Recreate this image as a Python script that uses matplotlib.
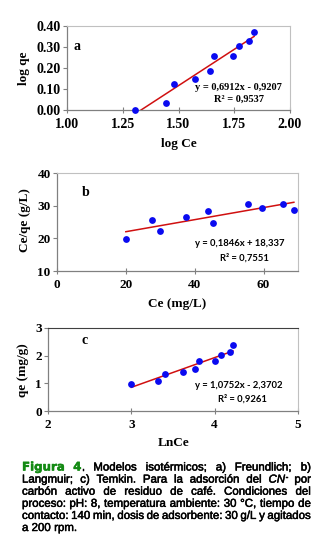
import matplotlib
matplotlib.use("Agg")
import matplotlib.pyplot as plt
import matplotlib.patheffects as pe
from matplotlib.ticker import FormatStrFormatter, FixedLocator

# panel a - Freundlich
a_x = [1.303, 1.443, 1.478, 1.576, 1.643, 1.658, 1.745, 1.773, 1.818, 1.839]
a_y = [0.000, 0.032, 0.123, 0.150, 0.188, 0.259, 0.258, 0.305, 0.330, 0.373]
a_fit = [0.6912, -0.9207]
# panel b - Langmuir
b_x = [20.0, 27.6, 30.0, 37.5, 43.8, 45.4, 55.4, 59.4, 65.7, 68.8]
b_y = [19.9, 25.5, 22.2, 26.5, 28.3, 24.7, 30.4, 29.4, 30.5, 28.8]
b_fit = [0.1846, 18.337]
# panel c - Temkin
c_x = [3.00, 3.316, 3.40, 3.62, 3.77, 3.81, 4.00, 4.08, 4.18, 4.22]
c_y = [0.98, 1.08, 1.34, 1.41, 1.53, 1.81, 1.80, 2.02, 2.14, 2.38]
c_fit = [1.0752, -2.3702]

W, H = 320, 544
def fx(px): return px / W
def fy(py): return 1 - py / H

fig = plt.figure(figsize=(3.2, 5.44), dpi=100, facecolor="white")
serif = "Liberation Serif"
blue = "#0a0af0"
red = "#d01010"

def make_ax(l, r, t, b):
    ax = fig.add_axes([fx(l), fy(b), fx(r) - fx(l), fy(t) - fy(b)])
    for s in ["left", "bottom"]:
        ax.spines[s].set_color("#808080")
        ax.spines[s].set_linewidth(0.9)
    for s in ["top", "right"]:
        ax.spines[s].set_color("#c0c0c0")
        ax.spines[s].set_linewidth(0.8)
    ax.tick_params(axis="y", direction="out", length=3, width=0.8, color="#808080", pad=1.5)
    ax.tick_params(axis="x", direction="inout", length=5, width=0.8, color="#808080", pad=3)
    return ax

def style_ticks(ax, size):
    for lab in ax.get_xticklabels() + ax.get_yticklabels():
        lab.set_fontfamily(serif)
        lab.set_fontweight("bold")
        lab.set_fontsize(size)

def draw(ax, x, y, fit, x0, x1):
    ax.plot([x0, x1], [fit[0] * x0 + fit[1], fit[0] * x1 + fit[1]], color=red, lw=1.1, zorder=2)
    ax.scatter(x, y, s=24, color=blue, zorder=3, clip_on=False, linewidths=0)

# ---- a
ax = make_ax(67, 290, 26, 110)
draw(ax, a_x, a_y, a_fit, min(a_x), max(a_x))
ax.set_xlim(1.0, 2.0)
ax.set_ylim(0.0, 0.40)
ax.xaxis.set_major_locator(FixedLocator([1.0, 1.25, 1.5, 1.75, 2.0]))
ax.yaxis.set_major_locator(FixedLocator([0.0, 0.1, 0.2, 0.3, 0.4]))
ax.xaxis.set_major_formatter(FormatStrFormatter("%.2f"))
ax.yaxis.set_major_formatter(FormatStrFormatter("%.2f"))
style_ticks(ax, 10)
fig.text(fx(77), fy(46), "a", family=serif, weight="bold", fontsize=10, ha="center", va="center")
fig.text(fx(238.5), fy(88), "y = 0,6912x - 0,9207", family=serif, weight="bold", fontsize=7.5, ha="center", va="center")
fig.text(fx(239), fy(99), "R² = 0,9537", family=serif, weight="bold", fontsize=7.5, ha="center", va="center")
fig.text(fx(24), fy(68), "log qe", family=serif, weight="bold", fontsize=9.5, rotation=90, ha="center", va="center")
fig.text(fx(179), fy(144), "log Ce", family=serif, weight="bold", fontsize=9.5, ha="center", va="center")

# ---- b
ax = make_ax(57, 298, 173, 271)
draw(ax, b_x, b_y, b_fit, min(b_x), max(b_x))
ax.set_xlim(0, 70)
ax.set_ylim(10, 40)
ax.xaxis.set_major_locator(FixedLocator([0, 20, 40, 60]))
ax.yaxis.set_major_locator(FixedLocator([10, 20, 30, 40]))
style_ticks(ax, 9.5)
fig.text(fx(86), fy(193), "b", family=serif, weight="bold", fontsize=10, ha="center", va="center")
fig.text(fx(240), fy(243.5), "y = 0,1846x + 18,337", family="Lato", weight="bold", fontsize=6.8, ha="center", va="center")
fig.text(fx(244), fy(257.5), "R² = 0,7551", family="Lato", weight="bold", fontsize=6.8, ha="center", va="center")
fig.text(fx(25), fy(220), "Ce/qe (g/L)", family=serif, weight="bold", fontsize=9.5, rotation=90, ha="center", va="center")
fig.text(fx(177), fy(304), "Ce (mg/L)", family=serif, weight="bold", fontsize=9.5, ha="center", va="center")

# ---- c
ax = make_ax(48, 298, 328, 411)
ax.spines["top"].set_color("#404040")
draw(ax, c_x, c_y, c_fit, min(c_x), max(c_x))
ax.set_xlim(2, 5)
ax.set_ylim(0, 3)
ax.xaxis.set_major_locator(FixedLocator([2, 3, 4, 5]))
ax.yaxis.set_major_locator(FixedLocator([0, 1, 2, 3]))
style_ticks(ax, 9.5)
fig.text(fx(85), fy(341), "c", family=serif, weight="bold", fontsize=10, ha="center", va="center")
fig.text(fx(239), fy(385), "y = 1,0752x - 2,3702", family="Lato", weight="bold", fontsize=6.8, ha="center", va="center")
fig.text(fx(242), fy(398.5), "R² = 0,9261", family="Lato", weight="bold", fontsize=6.8, ha="center", va="center")
fig.text(fx(23), fy(370), "qe (mg/g)", family=serif, weight="bold", fontsize=9.5, rotation=90, ha="center", va="center")
fig.text(fx(174), fy(443), "LnCe", family=serif, weight="bold", fontsize=9.5, ha="center", va="center")

# ---- caption, justified
caption_lines = [
    "Figura 4. Modelos isotérmicos; a) Freundlich; b)",
    "Langmuir; c) Temkin. Para la adsorción del CN- por",
    "carbón activo de residuo de café. Condiciones del",
    "proceso: pH: 8, temperatura ambiente: 30 °C, tiempo de",
    "contacto: 140 min, dosis de adsorbente: 30 g/L y agitados",
    "a 200 rpm.",
]
green = "#138a13"
renderer = fig.canvas.get_renderer()
x_left, x_right = 22, 311
min_gap = 2.6
thick = [pe.withStroke(linewidth=0.35, foreground="black")]
thick_g = [pe.withStroke(linewidth=0.35, foreground=green)]

def word_segs(w, i, size):
    body = dict(family="Liberation Sans", fontsize=size, color="black", path_effects=thick)
    heavy = dict(family="DejaVu Sans", weight="bold", fontsize=size * 1.03, color=green, path_effects=thick_g)
    if w == "Figura" and i == 0:
        return [(w, heavy)]
    if w == "4." and i == 0:
        return [("4", heavy), (".", body)]
    if w == "CN-":
        return [("CN", dict(body, style="italic")), ("-", dict(body, fontsize=size * 0.7))]
    return [(w, body)]

def build(size):
    rows = []
    for i, line in enumerate(caption_lines):
        groups = []
        for w in line.split(" "):
            items = []
            for s, p in word_segs(w, i, size):
                t = fig.text(0, 0, s, ha="left", va="baseline", **p)
                items.append([t, t.get_window_extent(renderer).width, s])
            groups.append(items)
        rows.append(groups)
    return rows

# measure at a trial size, then scale so the tightest line fits
trial = build(10)
scale = 10
for groups in trial[:-1]:
    tot = sum(it[1] for g in groups for it in g)
    need = (x_right - x_left - min_gap * (len(groups) - 1)) / tot * 10
    scale = min(scale, need)
for groups in trial:
    for g in groups:
        for it in g:
            it[0].remove()

rows = build(scale)
for i, groups in enumerate(rows):
    base = 470.5 + i * 12.1
    widths = [sum(it[1] for it in g) for g in groups]
    if i == len(rows) - 1:
        gap = min_gap + 0.6
    else:
        gap = (x_right - x_left - sum(widths)) / (len(groups) - 1)
    x = x_left
    for g, wd in zip(groups, widths):
        xx = x
        for t, wpx, s in g:
            t.set_position((fx(xx), fy(base - 3 if s == "-" else base)))
            xx += wpx + (0.5 if s in ("4", "CN") else 0)
        x += wd + gap

fig.savefig("out.png", dpi=100, facecolor="white")
